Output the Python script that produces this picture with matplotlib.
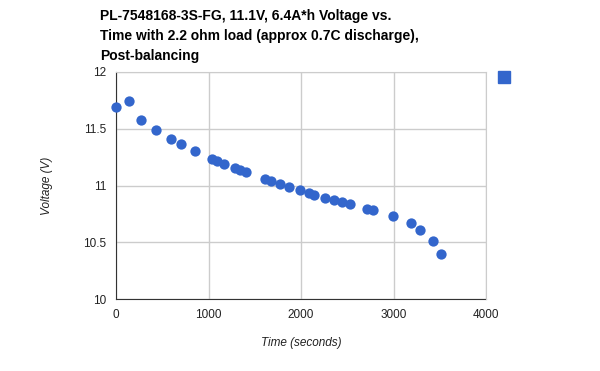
import matplotlib
matplotlib.use("Agg")
import matplotlib.pyplot as plt

time_s = [0, 144, 270, 432, 595, 703, 857, 1034, 1095, 1164, 1286, 1341, 1402,
          1607, 1672, 1771, 1874, 1986, 2086, 2137, 2263, 2357, 2440, 2530,
          2717, 2782, 2991, 3186, 3290, 3427, 3514]
voltage = [11.69, 11.742, 11.577, 11.489, 11.41, 11.368, 11.307, 11.236, 11.216,
           11.192, 11.154, 11.137, 11.119, 11.057, 11.04, 11.012, 10.985, 10.958,
           10.93, 10.916, 10.887, 10.87, 10.852, 10.834, 10.796, 10.78, 10.734,
           10.67, 10.61, 10.508, 10.396]
x_ticks = [0, 1000, 2000, 3000, 4000]
y_ticks = [10, 10.5, 11, 11.5, 12]
y_tick_labels = ["10", "10.5", "11", "11.5", "12"]

plt.rcParams['font.family'] = ['Liberation Sans', 'DejaVu Sans']
blue = '#3366cc'

fig = plt.figure(figsize=(6, 3.71), dpi=100)
ax = fig.add_axes([116/600, 1-299/371, 370/600, 227/371])

ax.scatter(time_s, voltage, s=55, color=blue, zorder=3, clip_on=False, linewidths=0)

ax.set_xlim(0, 4000)
ax.set_ylim(10, 12)
ax.set_xticks(x_ticks)
ax.set_yticks(y_ticks)
ax.set_yticklabels(y_tick_labels)
ax.grid(True, color='#cccccc', linewidth=1)
ax.set_axisbelow(True)
ax.tick_params(length=0, labelsize=8.5, colors='#222222', pad=7)
for s in ['top', 'right']:
    ax.spines[s].set_color('#cccccc')
for s in ['left', 'bottom']:
    ax.spines[s].set_color('#333333')
    ax.spines[s].set_zorder(2)

ax.set_xlabel("Time (seconds)", style='italic', fontsize=8.5, color='#222222', labelpad=12)
ax.set_ylabel("Voltage (V)", style='italic', fontsize=8.5, color='#222222', labelpad=22)

fig.text(100/600, 1-9/371,
         "PL-7548168-3S-FG, 11.1V, 6.4A*h Voltage vs.\n"
         "Time with 2.2 ohm load (approx 0.7C discharge),\n"
         "Post-balancing",
         ha='left', va='top', fontsize=10, fontweight='bold', color='black',
         linespacing=1.55)

# legend marker (no label)
fig.patches.append(plt.Rectangle((498/600, 1-83/371), 12/600, 12/371,
                                 transform=fig.transFigure, color=blue))

fig.savefig("out.png", dpi=100)
